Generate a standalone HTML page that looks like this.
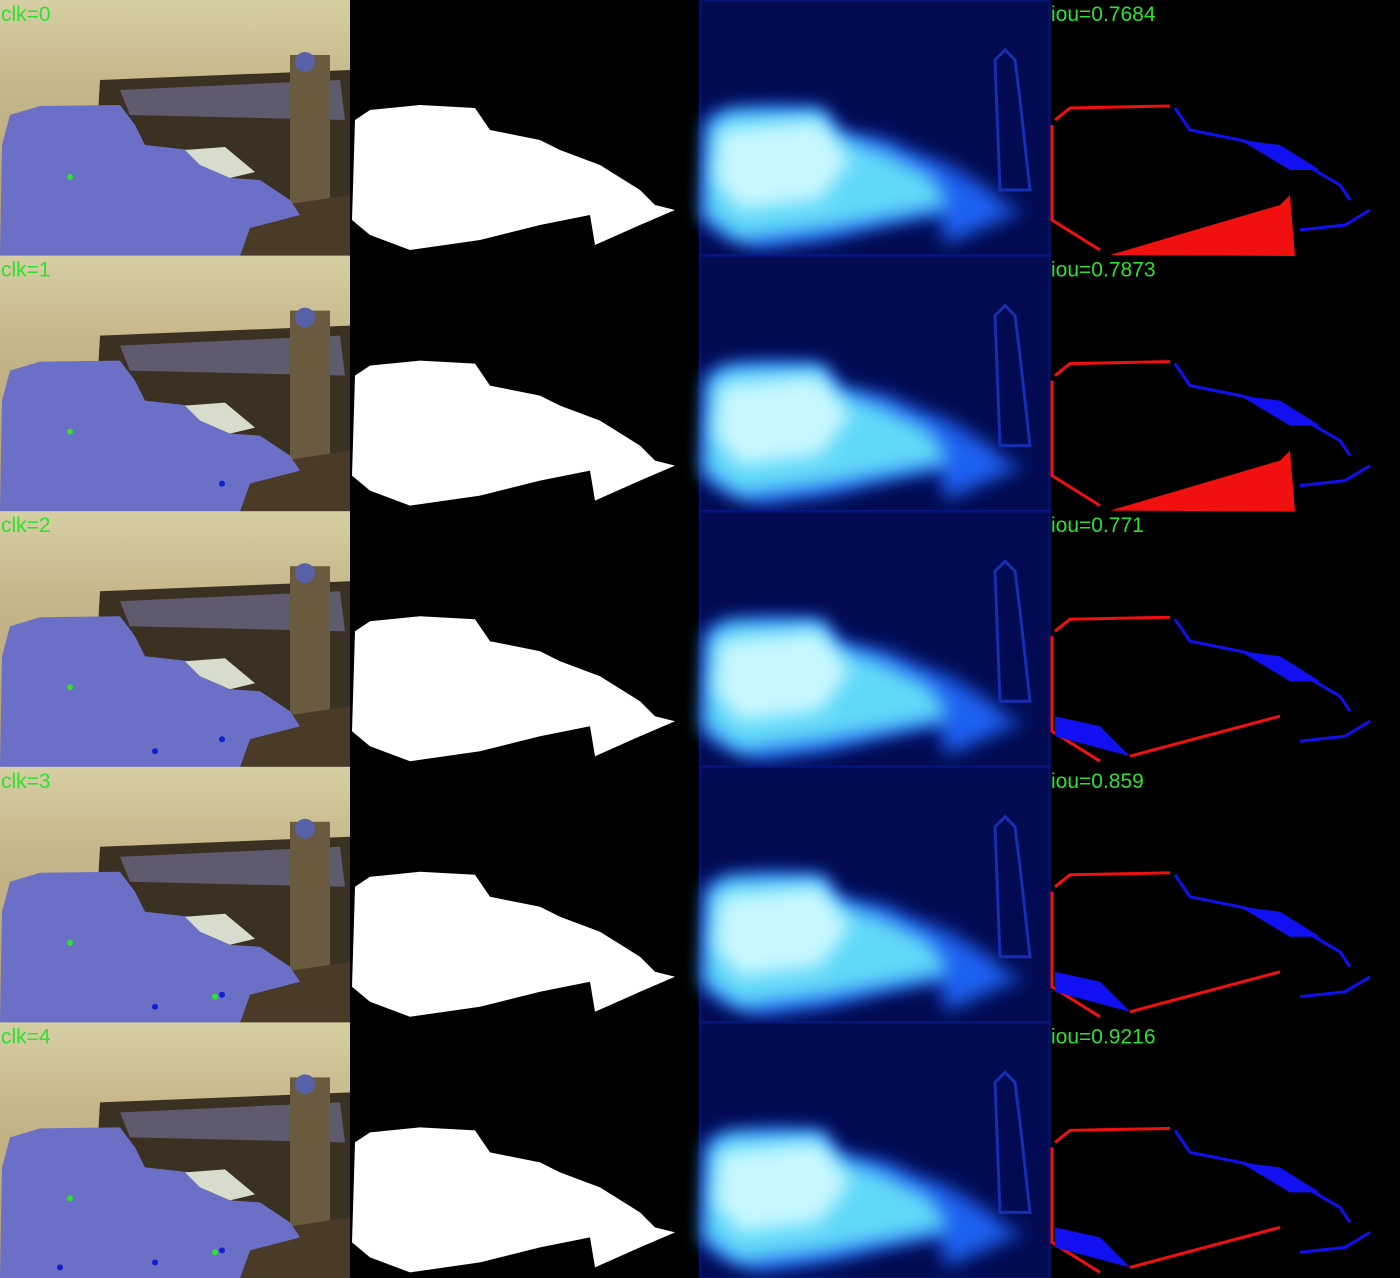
<!DOCTYPE html>
<html><head><meta charset="utf-8"><style>
html,body{margin:0;padding:0;background:#000;width:1400px;height:1278px;overflow:hidden}
svg{display:block}
text{font-family:"Liberation Sans",sans-serif;font-size:21px;fill:#2fe02f}
</style></head><body>
<svg id="grid" width="1400" height="1278" viewBox="0 0 1400 1278" xmlns="http://www.w3.org/2000/svg">
<defs>
<filter id="blur" x="-20%" y="-20%" width="140%" height="140%"><feGaussianBlur stdDeviation="9"/></filter>
<filter id="blur2"><feGaussianBlur stdDeviation="3"/></filter>
<linearGradient id="sky" x1="0" y1="0" x2="0" y2="1">
<stop offset="0" stop-color="#d6cfa4"/><stop offset="0.3" stop-color="#c7b98c"/><stop offset="1" stop-color="#b09c70"/>
</linearGradient>
<g id="photo">
<rect width="350" height="256" fill="url(#sky)"/>
<polygon points="100,80 350,70 350,256 90,256" fill="#3b3122"/>
<polygon points="120,90 340,80 345,120 130,115" fill="#5f5a6e"/>
<rect x="290" y="55" width="40" height="160" fill="#6a5a40"/>
<circle cx="305" cy="62" r="10" fill="#5860a8"/>
<polygon points="250,210 350,195 350,256 230,256" fill="#4a3a28"/>
<polygon points="2,145 10,115 40,106 120,105 135,125 145,145 190,150 200,165 230,178 260,180 290,200 300,215 250,228 240,256 0,256" fill="#6b70c6"/>
<polygon points="185,150 225,147 255,172 230,178 200,165" fill="#d8dccc"/>
</g>
<polygon id="mask" points="5,120 20,110 70,105 125,108 140,130 190,140 210,150 250,165 290,190 305,205 325,210 290,225 245,245 240,215 190,225 130,240 60,250 20,235 2,220"/>
<g id="heat">
<rect width="350" height="256" fill="#020a52"/>
<rect x="0" y="0" width="350" height="256" fill="none" stroke="#0a1a90" stroke-width="3" opacity="0.5"/>
<polygon points="5,120 20,110 70,105 125,108 140,130 190,140 210,150 250,165 290,190 305,205 325,210 290,225 245,245 240,215 190,225 130,240 60,250 20,235 2,220" fill="#1a60f0" filter="url(#blur)"/>
<polygon points="10,125 30,112 120,112 135,135 180,150 230,175 250,205 200,215 120,230 40,240 5,215" fill="#60d8f8" filter="url(#blur)"/>
<polygon points="20,130 120,120 150,160 120,200 40,210 15,180" fill="#c8f8ff" filter="url(#blur)"/>
<path d="M295,60 l10,-10 10,10 5,40 10,90 -30,0 z" fill="none" stroke="#1430b0" stroke-width="3"/>
</g>
</defs>
<g id="rows"></g>
</svg>
<script>
const clicks = [0, 1, 2, 3, 4];
const ious = ["0.7684", "0.7873", "0.771", "0.859", "0.9216"];
const greenDots = [[70,177],[70,176],[70,176],[70,176],[70,176]];
const rowH = 1278 / 5;
const NS = "http://www.w3.org/2000/svg";
const rows = document.getElementById('rows');
function mk(tag, attrs, parent){const e=document.createElementNS(NS,tag);for(const k in attrs)e.setAttribute(k,attrs[k]);parent.appendChild(e);return e;}
clicks.forEach((c, i) => {
  const g = mk('g', {transform: `translate(0,${i*rowH})`}, rows);
  
  
  const p = mk('use', {href: '#photo'}, g);
  
  
  const d = mk('circle', {cx: greenDots[i][0], cy: greenDots[i][1], r: 3, fill: '#30e030'}, g);
  
  
  for (let k = 0; k < c; k++) {
    const pts = [[222,228],[155,240],[215,230],[60,245]];
    const b = mk('circle', {cx: pts[k][0], cy: pts[k][1], r: 3, fill: k===2?'#30e030':'#1020d0'}, g);
    
    
  }
  const t = mk('text', {x: 1, y: 21}, g);
  t.textContent = 'clk=' + c;
  
  
  const m = mk('use', {href: '#mask', x: 350, fill: '#fff'}, g);
  
  
  const h = mk('use', {href: '#heat', x: 700}, g);
  
  
  const e = mk('g', {transform: 'translate(1050,0)'}, g);
  
  
  const red = mk('path', {d: 'M5,120 L20,108 L120,106 M2,125 L2,220 L50,250', fill: 'none', stroke: '#f01010', 'stroke-width': 3}, e);
  
  
  const blue = mk('path', {d: 'M125,108 L140,130 L190,140 L230,150 L290,185 L300,200 M250,230 L295,225 L320,210', fill: 'none', stroke: '#1010f0', 'stroke-width': 3}, e);
  
  
  if (i < 2) {
    const r2 = mk('polygon', {points: '60,255 230,205 240,195 245,256', fill: '#f01010'}, e);
    
    
  } else {
    const b2 = mk('polygon', {points: '5,205 50,215 80,245 5,225', fill: '#1010f0'}, e);
    
    
    const r3 = mk('path', {d: 'M80,245 L230,205', stroke: '#f01010', 'stroke-width': 3, fill: 'none'}, e);
    
    
  }
  const b3 = mk('polygon', {points: '190,140 230,145 270,170 240,170', fill: '#1010f0'}, e);
  
  
  const it = mk('text', {x: 1, y: 21}, e);
  it.textContent = 'iou=' + ious[i];
  
  
});
</script>
</body></html>
